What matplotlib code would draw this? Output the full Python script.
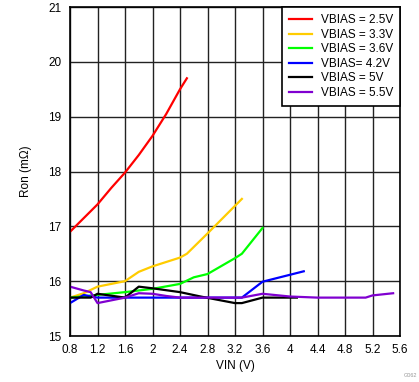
import matplotlib
matplotlib.use('Agg')
import matplotlib.pyplot as plt

plt.rcParams['font.family'] = ['Liberation Sans', 'DejaVu Sans']

# Ron vs VIN for each VBIAS
x_25 = [0.8, 1.0, 1.2, 1.4, 1.6, 1.8, 2.0, 2.2, 2.4, 2.5]
y_25 = [16.9, 17.15, 17.4, 17.7, 17.98, 18.3, 18.65, 19.05, 19.5, 19.7]

x_33 = [0.8, 1.0, 1.2, 1.6, 1.8, 2.0, 2.4, 2.5, 2.8, 3.3]
y_33 = [15.7, 15.78, 15.9, 16.0, 16.17, 16.27, 16.43, 16.5, 16.87, 17.5]

x_36 = [0.8, 1.2, 1.6, 2.0, 2.4, 2.6, 2.8, 3.2, 3.3, 3.6]
y_36 = [15.7, 15.75, 15.8, 15.86, 15.95, 16.07, 16.13, 16.42, 16.5, 16.97]

x_42 = [0.8, 1.0, 1.1, 1.2, 2.0, 3.3, 3.6, 4.2]
y_42 = [15.6, 15.75, 15.72, 15.7, 15.7, 15.7, 15.99, 16.18]

x_50 = [0.8, 1.1, 1.2, 1.6, 1.8, 2.0, 2.4, 2.7, 3.2, 3.3, 3.6, 4.1]
y_50 = [15.7, 15.7, 15.77, 15.7, 15.9, 15.87, 15.8, 15.72, 15.6, 15.6, 15.7, 15.7]

x_55 = [0.8, 1.0, 1.1, 1.2, 1.6, 1.8, 2.0, 2.2, 2.4, 3.3, 3.6, 4.0, 4.4, 5.1, 5.2, 5.5]
y_55 = [15.9, 15.83, 15.8, 15.6, 15.7, 15.78, 15.77, 15.73, 15.7, 15.7, 15.77, 15.72, 15.7, 15.7, 15.74, 15.78]

labels = ['VBIAS = 2.5V', 'VBIAS = 3.3V', 'VBIAS = 3.6V', 'VBIAS= 4.2V', 'VBIAS = 5V', 'VBIAS = 5.5V']
colors = ['#ff0000', '#ffcc00', '#00ff00', '#0000ff', '#000000', '#8000d0']

xticks = [0.8, 1.2, 1.6, 2.0, 2.4, 2.8, 3.2, 3.6, 4.0, 4.4, 4.8, 5.2, 5.6]
xtick_labels = ['0.8', '1.2', '1.6', '2', '2.4', '2.8', '3.2', '3.6', '4', '4.4', '4.8', '5.2', '5.6']
yticks = [15, 16, 17, 18, 19, 20, 21]

fig = plt.figure(figsize=(4.19, 3.82), dpi=100)
ax = fig.add_axes([70 / 419, 46 / 382, 330 / 419, 329 / 382])

series = [(x_25, y_25), (x_33, y_33), (x_36, y_36), (x_42, y_42), (x_50, y_50), (x_55, y_55)]
for (xs, ys), lab, col in zip(series, labels, colors):
    ax.plot(xs, ys, color=col, linewidth=1.6, label=lab)

ax.set_xlim(0.8, 5.6)
ax.set_ylim(15, 21)
ax.set_xticks(xticks)
ax.set_xticklabels(xtick_labels)
ax.set_yticks(yticks)
ax.tick_params(length=0, labelsize=8.5, pad=6)
ax.grid(True, color='#222222', linewidth=1.0)
ax.set_axisbelow(True)
for s in ax.spines.values():
    s.set_linewidth(1.2)

ax.set_xlabel('VIN (V)', fontsize=8.5, labelpad=3)
ax.set_ylabel('Ron (m\u03a9)', fontsize=8.5, labelpad=12)

leg = ax.legend(loc='upper right', fontsize=8.5, frameon=True, fancybox=False,
                borderaxespad=0, handlelength=2.0, labelspacing=0.22,
                borderpad=0.6, handletextpad=0.7)
leg.get_frame().set_edgecolor('black')
leg.get_frame().set_linewidth(1.2)
leg.get_frame().set_alpha(1)

fig.text(0.995, 0.01, 'G062', fontsize=4, color='#999999', ha='right', va='bottom')

fig.savefig('out.png', dpi=100)
